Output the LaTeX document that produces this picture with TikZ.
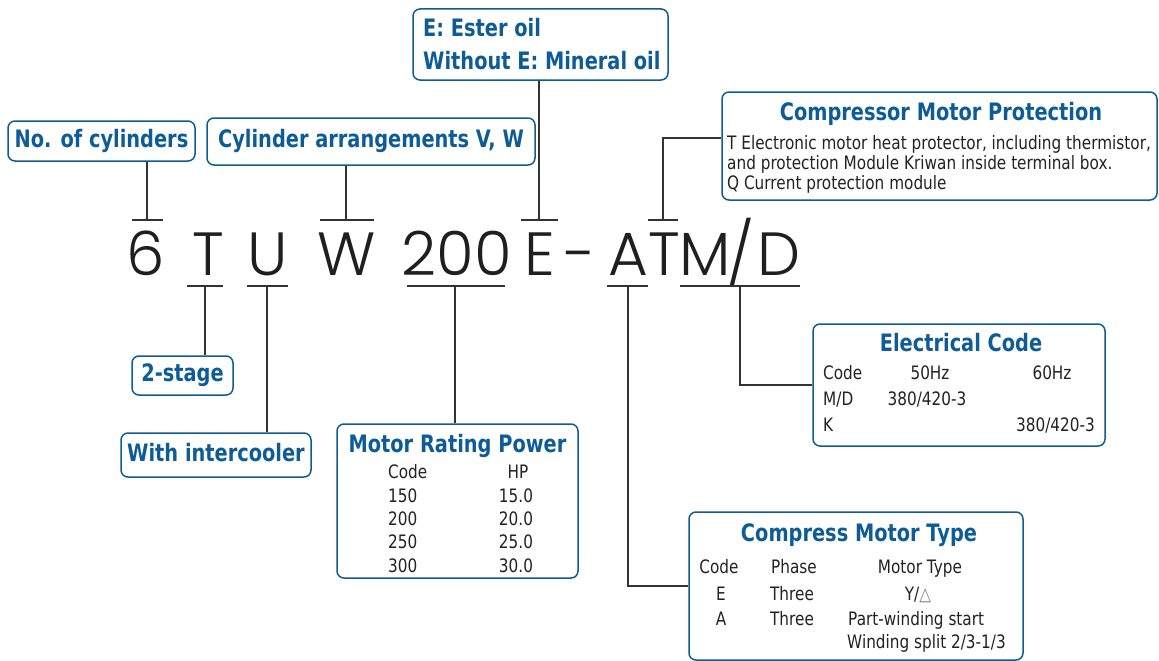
\documentclass[tikz,border=0pt]{standalone}
\usepackage{fontspec}
\setmainfont{DejaVu Sans}[FakeStretch=0.826]
\newfontfamily\titlefont{DejaVu Sans}[FakeStretch=0.807]
\IfFontExistsTF{Poppins Light}{\newfontfamily\codefont{Poppins Light}}{\newfontfamily\codefont{Poppins}}
\usetikzlibrary{positioning,calc}
\definecolor{boxblue}{HTML}{0D5C98}
\definecolor{linegray}{HTML}{333333}
\definecolor{textgray}{HTML}{222222}

\tikzset{
  label box/.style={draw=boxblue, line width=1.5pt, rounded corners=7pt, fill=white, text=boxblue,
    font=\titlefont\bfseries\fontsize{24}{26}\selectfont, inner sep=0pt, text height=17.5pt, text depth=5pt},
  info box/.style={draw=boxblue, line width=1.5pt, rounded corners=7pt, inner sep=0pt},
  box title/.style={text=boxblue, font=\titlefont\bfseries\fontsize{24}{26}\selectfont, anchor=base, inner sep=0pt},
  cell/.style={text=textgray, font=\fontsize{18.5}{21}\selectfont, anchor=base, inner sep=0pt},
  code char/.style={text=black!88, font=\codefont\fontsize{61}{61}\selectfont, anchor=base, inner sep=0pt},
  tickline/.style={linegray, line width=1.2pt},
  link/.style={linegray, line width=1.2pt},
}

\begin{document}
\begin{tikzpicture}[x=1pt, y=-1pt]
  \useasboundingbox (0,0) rectangle (1159,661);

  % model code
  \node[code char] (ch6) at (145.5,275) {6};
  \node[code char] (chT) at (208,275) {T};
  \node[code char] (chU) at (268,275) {U};
  \node[code char] (chW) at (347,275) {W};
  \node[code char] (ch200) at (457,275) {200};
  \node[code char] (chE) at (540,275) {E};
  \node[code char] (chDash) at (580,275) {-};
  \node[code char] (chA) at (628,275) {A};
  \node[code char] (chT2) at (664,275) {T};
  \node[code char] (chM) at (705,275) {M};
  \node[code char] (chSlash) at (741,275) {/};
  \node[code char] (chD) at (779,275) {D};

  % label boxes
  \node[label box, minimum width=187pt, minimum height=40pt] (cyl) at (101.5,141) {No. of cylinders};
  \node[label box, minimum width=328pt, minimum height=47pt] (arr) at (371,141.5) {Cylinder arrangements V, W};
  \node[label box, minimum width=101pt, minimum height=39pt] (stage) at (182.5,375.5) {2-stage};
  \node[label box, minimum width=190pt, minimum height=44pt] (inter) at (216,455) {With intercooler};

  \node[info box, minimum width=255pt, minimum height=71pt] (oil) at (540.5,44.5) {};
  \node[box title, anchor=base west] (oil1) at (423,37) {E: Ester oil};
  \node[box title, anchor=base west] (oil2) at (423,70) {Without E: Mineral oil};

  % protection
  \node[info box, minimum width=435pt, minimum height=108pt] (prot) at (939.5,146) {};
  \node[box title] (protT) at (941,120) {Compressor Motor Protection};
  \node[cell, anchor=base west] (prot1) at (727,149) {T Electronic motor heat protector, including thermistor,};
  \node[cell, anchor=base west] (prot2) at (727,169) {and protection Module Kriwan inside terminal box.};
  \node[cell, anchor=base west] (prot3) at (727,189) {Q Current protection module};

  % electrical code
  \node[info box, minimum width=292pt, minimum height=122pt] (elec) at (959,385) {};
  \node[box title] (elecT) at (961,351) {Electrical Code};
  \node[cell, anchor=base west] (elecC) at (823,379) {Code};
  \node[cell] (elec50) at (930,379) {50Hz};
  \node[cell] (elec60) at (1052,379) {60Hz};
  \node[cell, anchor=base west] (elecMD) at (823,405) {M/D};
  \node[cell] (elecMDv) at (927,405) {380/420-3};
  \node[cell, anchor=base west] (elecK) at (823,431) {K};
  \node[cell, anchor=base east] (elecKv) at (1095,431) {380/420-3};

  % motor rating
  \node[info box, minimum width=241pt, minimum height=154pt] (rate) at (457.5,501) {};
  \node[box title] (rateT) at (457.5,452) {Motor Rating Power};
  \node[cell, anchor=base west] (rateC) at (388,478) {Code};
  \node[cell] (rateH) at (518,478) {HP};
  \node[cell, anchor=base west] (rate1) at (388,502) {150};
  \node[cell] (rate1h) at (516,502) {15.0};
  \node[cell, anchor=base west] (rate2) at (388,525) {200};
  \node[cell] (rate2h) at (516,525) {20.0};
  \node[cell, anchor=base west] (rate3) at (388,548) {250};
  \node[cell] (rate3h) at (516,548) {25.0};
  \node[cell, anchor=base west] (rate4) at (388,572) {300};
  \node[cell] (rate4h) at (516,572) {30.0};

  % motor type
  \node[info box, minimum width=334pt, minimum height=148pt] (mtype) at (856,586) {};
  \node[box title] (mtypeT) at (859,541) {Compress Motor Type};
  \node[cell] (mtypeC) at (719,573) {Code};
  \node[cell] (mtypeP) at (794,573) {Phase};
  \node[cell] (mtypeM) at (920,573) {Motor Type};
  \node[cell] (mtypeE) at (721,600) {E};
  \node[cell] (mtypeE2) at (792,600) {Three};
  \node[cell] (mtypeE3) at (918,600) {Y/\textcolor{gray}{△}};
  \node[cell] (mtypeA) at (721,625) {A};
  \node[cell] (mtypeA2) at (792,625) {Three};
  \node[cell, anchor=base west] (mtypeA3) at (848,625) {Part-winding start};
  \node[cell, anchor=base west] (mtypeA4) at (847,648) {Winding split 2/3-1/3};

  % ticks above the code
  \coordinate (u6) at (147,220);
  \coordinate (uW) at (346,220);
  \coordinate (uE) at (539,220);
  \coordinate (uT) at (663,220);
  \draw[tickline] ([xshift=-15pt]u6) -- ([xshift=16pt]u6);
  \draw[tickline] ([xshift=-26pt]uW) -- ([xshift=28pt]uW);
  \draw[tickline] ([xshift=-18pt]uE) -- ([xshift=19pt]uE);
  \draw[tickline] ([xshift=-15pt]uT) -- ([xshift=15pt]uT);
  \draw[link] (u6) -- (u6 |- cyl.south);
  \draw[link] (uW) -- (uW |- arr.south);
  \draw[link] (uE) -- (uE |- oil.south);
  \draw[link] (uT) |- ([yshift=8pt]prot.west);

  % ticks below the code
  \coordinate (dT) at (205,286);
  \coordinate (dU) at (267,286);
  \coordinate (d200) at (455,286);
  \coordinate (dA) at (628,286);
  \coordinate (dMD) at (740,286);
  \draw[tickline] ([xshift=-18pt]dT) -- ([xshift=18pt]dT);
  \draw[tickline] ([xshift=-20pt]dU) -- ([xshift=21pt]dU);
  \draw[tickline] ([xshift=-48pt]d200) -- ([xshift=50pt]d200);
  \draw[tickline] ([xshift=-21pt]dA) -- ([xshift=20pt]dA);
  \draw[tickline] ([xshift=-60pt]dMD) -- ([xshift=60pt]dMD);
  \draw[link] (dT) -- (dT |- stage.north);
  \draw[link] (dU) -- (dU |- inter.north);
  \draw[link] (d200) -- (d200 |- rate.north);
  \draw[link] (dA) |- (mtype.west);
  \draw[link] (dMD) |- (elec.west);
\end{tikzpicture}
\end{document}
